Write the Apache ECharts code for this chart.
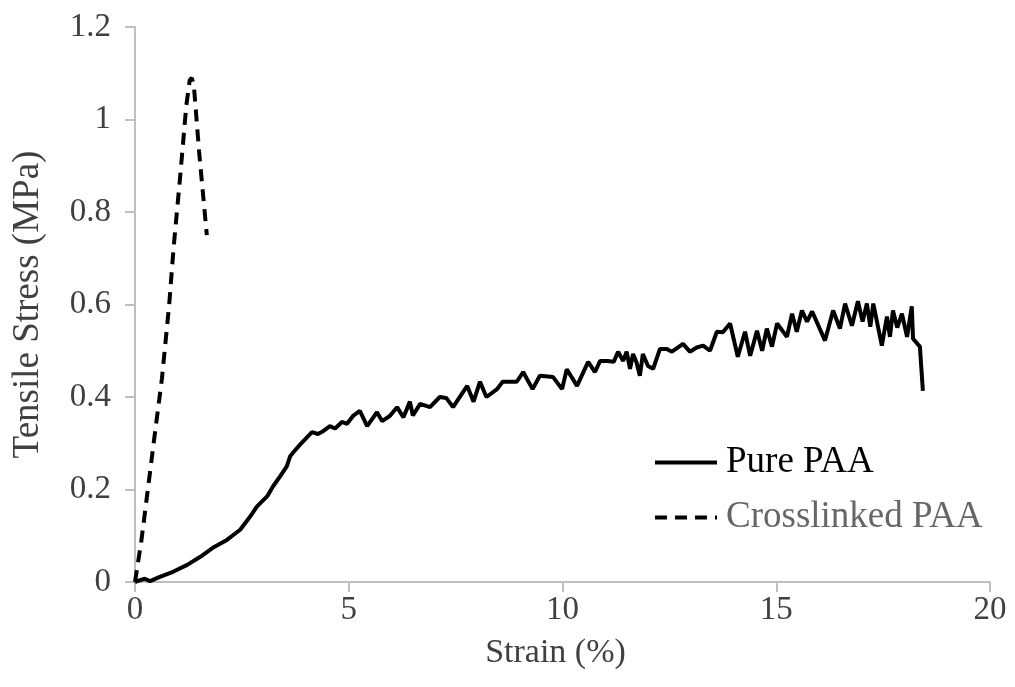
<!DOCTYPE html>
<html>
<head>
<meta charset="utf-8">
<script src="https://cdn.jsdelivr.net/npm/echarts@6/dist/echarts.min.js"></script>
<style>
  html, body { margin: 0; padding: 0; background: #fff; }
  #chart { width: 1015px; height: 687px; }
</style>
</head>
<body>
<div id="chart"></div>
<script>
// Pure PAA (strain %, stress MPa)
const pureX = [0, 0.12, 0.23, 0.35, 0.58, 0.89, 1.22, 1.52, 1.82, 2.15, 2.46, 2.69, 2.85, 3.09, 3.23, 3.39, 3.55, 3.63,
  3.7, 3.86, 4.14, 4.28, 4.4, 4.56, 4.68, 4.84, 4.96, 5.1, 5.26, 5.43, 5.66, 5.78, 5.96, 6.13, 6.28, 6.43, 6.5,
  6.67, 6.9, 7.13, 7.28, 7.44, 7.77, 7.92, 8.07, 8.22, 8.47, 8.6, 8.93, 9.08, 9.3, 9.47, 9.78, 9.99, 10.1, 10.34,
  10.6, 10.76, 10.88, 11.05, 11.2, 11.3, 11.42, 11.5, 11.58, 11.65, 11.73, 11.81, 11.88, 12.0, 12.12, 12.28, 12.44,
  12.56, 12.82, 12.98, 13.14, 13.29, 13.45, 13.61, 13.75, 13.92, 14.1, 14.27, 14.39, 14.55, 14.67, 14.78, 14.9,
  15.02, 15.25, 15.37, 15.48, 15.6, 15.72, 15.84, 16.14, 16.33, 16.49, 16.61, 16.77, 16.91, 17.02, 17.12, 17.2,
  17.27, 17.47, 17.59, 17.66, 17.73, 17.83, 17.94, 18.06, 18.17, 18.2, 18.36, 18.43];
const pureY = [0, 0.004, 0.007, 0.002, 0.011, 0.022, 0.037, 0.054, 0.074, 0.091, 0.113, 0.141, 0.163, 0.185, 0.207, 0.228, 0.25, 0.272,
  0.28, 0.297, 0.324, 0.32, 0.326, 0.337, 0.332, 0.346, 0.342, 0.359, 0.37, 0.337, 0.367, 0.348, 0.359, 0.378, 0.356, 0.39, 0.36,
  0.385, 0.378, 0.4, 0.398, 0.378, 0.424, 0.39, 0.433, 0.4, 0.417, 0.433, 0.433, 0.454, 0.417, 0.446, 0.443, 0.417, 0.46, 0.424,
  0.476, 0.454, 0.478, 0.478, 0.476, 0.498, 0.478, 0.498, 0.461, 0.493, 0.475, 0.446, 0.493, 0.467, 0.461, 0.504, 0.504,
  0.498, 0.515, 0.498, 0.507, 0.511, 0.5, 0.541, 0.54, 0.559, 0.487, 0.541, 0.489, 0.543, 0.5, 0.548, 0.509,
  0.559, 0.53, 0.58, 0.541, 0.587, 0.563, 0.585, 0.522, 0.587, 0.548, 0.602, 0.554, 0.607, 0.563, 0.602, 0.552,
  0.602, 0.511, 0.574, 0.53, 0.587, 0.55, 0.58, 0.53, 0.596, 0.526, 0.509, 0.413];

// Crosslinked PAA
const crossX = [0, 0.05, 0.15, 0.3, 0.45, 0.63, 0.8, 0.9, 1.05, 1.2, 1.28, 1.33, 1.38, 1.5, 1.6, 1.68];
const crossY = [0, 0.03, 0.09, 0.2, 0.31, 0.44, 0.6, 0.72, 0.87, 1.03, 1.085, 1.09, 1.07, 0.93, 0.83, 0.75];

const seriesNames = ['Pure PAA', 'Crosslinked PAA'];
const legendColors = ['#000000', '#666666'];

const zip = (xs, ys) => xs.map((x, i) => [x, ys[i]]);

const chart = echarts.init(document.getElementById('chart'));
const serif = '"Liberation Serif", "Times New Roman", serif';
const axisGray = '#bfbfbf';
const labelColor = '#404040';

chart.setOption({
  animation: false,
  backgroundColor: '#fff',
  grid: { left: 135, right: 25, top: 27, bottom: 105 },
  legend: {
    orient: 'vertical',
    left: 648,
    top: 439,
    itemWidth: 62,
    itemHeight: 14,
    itemGap: 18,
    itemStyle: { opacity: 0 },
    lineStyle: { width: 4 },
    textStyle: { fontFamily: serif, fontSize: 37, padding: [0, 0, 0, 4] },
    data: seriesNames.map((n, i) => ({ name: n, textStyle: { color: legendColors[i] } }))
  },
  xAxis: {
    type: 'value',
    min: 0,
    max: 20,
    interval: 5,
    name: 'Strain (%)',
    nameLocation: 'middle',
    nameGap: 54,
    nameTextStyle: { fontFamily: serif, fontSize: 34, color: labelColor, padding: [0, 14, 0, 0] },
    axisLine: { lineStyle: { color: axisGray, width: 2 } },
    axisTick: { show: true, length: 10, lineStyle: { color: axisGray, width: 2 } },
    axisLabel: { fontFamily: serif, fontSize: 33, color: labelColor, margin: 12 },
    splitLine: { show: false }
  },
  yAxis: {
    type: 'value',
    min: 0,
    max: 1.2,
    interval: 0.2,
    name: 'Tensile Stress (MPa)',
    nameLocation: 'middle',
    nameGap: 88,
    nameTextStyle: { fontFamily: serif, fontSize: 37, color: labelColor },
    axisLine: { show: true, lineStyle: { color: axisGray, width: 2 } },
    axisTick: { show: true, length: 10, lineStyle: { color: axisGray, width: 2 } },
    axisLabel: { fontFamily: serif, fontSize: 33, color: labelColor, margin: 24 },
    splitLine: { show: false }
  },
  series: [
    {
      name: seriesNames[0],
      type: 'line',
      data: zip(pureX, pureY),
      symbol: 'none',
      lineStyle: { color: '#000', width: 4 },
      itemStyle: { color: '#000' }
    },
    {
      name: seriesNames[1],
      type: 'line',
      data: zip(crossX, crossY),
      symbol: 'none',
      lineStyle: { color: '#000', width: 4, type: [12, 8] },
      itemStyle: { color: '#000' }
    }
  ]
});
</script>
</body>
</html>
